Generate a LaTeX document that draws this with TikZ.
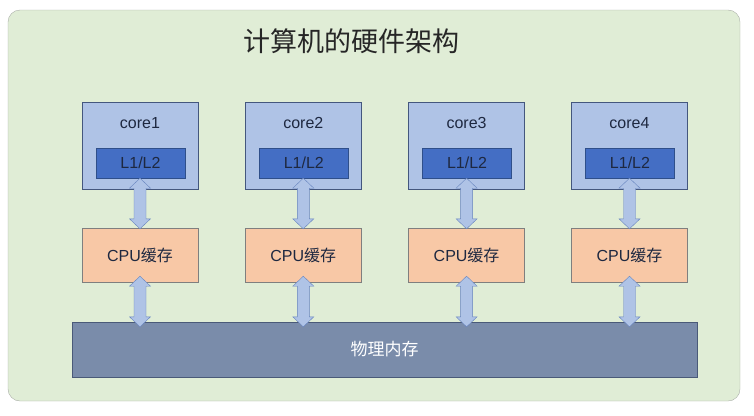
\documentclass[tikz,border=0pt]{standalone}
\usepackage{fontspec}
\setmainfont{Liberation Sans}
\newfontfamily\cjk{Noto Sans CJK SC}
\usetikzlibrary{calc}
\definecolor{bggreen}{HTML}{E0EDD6}
\definecolor{bgline}{HTML}{A8ADA6}
\definecolor{corefill}{HTML}{AFC3E6}
\definecolor{coreline}{HTML}{44577E}
\definecolor{l1fill}{HTML}{446EC4}
\definecolor{l1line}{HTML}{2F4F8A}
\definecolor{cachefill}{HTML}{F8C8A6}
\definecolor{cacheline}{HTML}{7F7F7F}
\definecolor{memfill}{HTML}{7A8CAA}
\definecolor{memline}{HTML}{4A5A78}
\definecolor{busfill}{HTML}{AFC3E6}
\definecolor{busline}{HTML}{6683BE}
\definecolor{textdark}{HTML}{1E2840}

\begin{document}
\begin{tikzpicture}[x=1pt, y=-1pt,
	every node/.style={font=\fontsize{16}{18}\selectfont, inner sep=0pt, text=textdark},
	corebox/.style={draw=coreline, fill=corefill, minimum width=116pt, minimum height=87pt},
	cachebox/.style={draw=l1line, fill=l1fill, minimum width=89pt, minimum height=30pt},
	cpubox/.style={draw=cacheline, fill=cachefill, minimum width=116pt, minimum height=54pt},
	bus/.style={draw=busline, fill=busfill, line join=miter,
		to path={let \p1=(\tikztostart), \p2=(\tikztotarget) in
			(\x1,\y1) -- (\x1+10.5pt,\y1-10pt) -- (\x1+6pt,\y1-10pt) -- (\x1+6pt,\y2+10pt)
			-- (\x1+10.5pt,\y2+10pt) -- (\x1,\y2) -- (\x1-10.5pt,\y2+10pt) -- (\x1-6pt,\y2+10pt)
			-- (\x1-6pt,\y1-10pt) -- (\x1-10.5pt,\y1-10pt) -- cycle}}]
	\useasboundingbox (0,0) rectangle (754,415);
	\draw[draw=bgline, fill=bggreen, rounded corners=12pt] (8,10) rectangle (740,401);
	\node[font=\cjk\fontsize{27}{30}\selectfont, text=black!85] (title) at (351,41) {计算机的硬件架构};

	\node[corebox] (core1) at (140,145.5) {};
	\node (name1) at (140,123) {core1};
	\node[cachebox] (l1) at (140.5,163) {L1/L2};
	\node[corebox] (core2) at (303.3,145.5) {};
	\node (name2) at (303.3,123) {core2};
	\node[cachebox] (l2) at (303.8,163) {L1/L2};
	\node[corebox] (core3) at (466.6,145.5) {};
	\node (name3) at (466.6,123) {core3};
	\node[cachebox] (l3) at (467.1,163) {L1/L2};
	\node[corebox] (core4) at (629.5,145.5) {};
	\node (name4) at (629.5,123) {core4};
	\node[cachebox] (l4) at (630,163) {L1/L2};

	\node[cpubox] (cpu1) at (140,255) {CPU{\cjk 缓存}};
	\node[cpubox] (cpu2) at (303.3,255) {CPU{\cjk 缓存}};
	\node[cpubox] (cpu3) at (466.6,255) {CPU{\cjk 缓存}};
	\node[cpubox] (cpu4) at (629.5,255) {CPU{\cjk 缓存}};

	\node[draw=memline, fill=memfill, minimum width=625pt, minimum height=55pt,
		font=\cjk\fontsize{17}{19}\selectfont, text=white] (mem) at (384.5,349.5) {物理内存};

	\draw[bus] (l1.south -| cpu1.north) to ([yshift=-1pt]cpu1.north);
	\draw[bus] (l2.south -| cpu2.north) to ([yshift=-1pt]cpu2.north);
	\draw[bus] (l3.south -| cpu3.north) to ([yshift=-1pt]cpu3.north);
	\draw[bus] (l4.south -| cpu4.north) to ([yshift=-1pt]cpu4.north);
	\draw[bus] ([yshift=6pt]cpu1.south) to ([yshift=-5pt]cpu1.south |- mem.north);
	\draw[bus] ([yshift=6pt]cpu2.south) to ([yshift=-5pt]cpu2.south |- mem.north);
	\draw[bus] ([yshift=6pt]cpu3.south) to ([yshift=-5pt]cpu3.south |- mem.north);
	\draw[bus] ([yshift=6pt]cpu4.south) to ([yshift=-5pt]cpu4.south |- mem.north);
\end{tikzpicture}
\end{document}
